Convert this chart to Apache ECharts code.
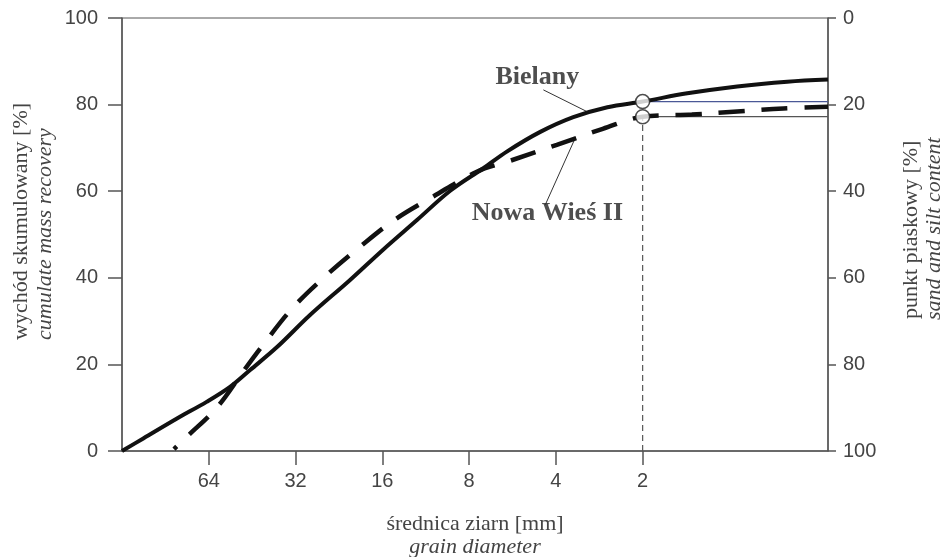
<!DOCTYPE html>
<html><head><meta charset="utf-8">
<script src="https://cdn.jsdelivr.net/npm/echarts@6/dist/echarts.min.js"></script>
<style>html,body{margin:0;padding:0;background:#fff}#c{width:947px;height:557px}</style>
</head><body><div id="c"></div>
<script>
// ---- data (grain diameter in mm, cumulative mass recovery in %) ----
const xTickDiameters = [64, 32, 16, 8, 4, 2];
const yTicks = [0, 20, 40, 60, 80, 100];
const bielanyDiameter = [128, 108, 82.5, 64.9, 54, 46, 37.1, 28.5, 20.7, 15.9, 12.1, 9.3, 7.14, 5.9, 4.53, 3.48, 2.65, 2.0, 1.40, 0.94, 0.63, 0.455];
const bielanyRecovery = [0, 2.9, 7.5, 11.4, 14.8, 18.7, 24.0, 31.4, 39.5, 46.5, 53.4, 60.1, 65.3, 69.2, 73.7, 77.1, 79.4, 80.7, 82.6, 84.2, 85.3, 85.8];
const nowaDiameter = [84.5, 73.2, 63.4, 57.1, 48.7, 41.5, 32.7, 24.9, 19.1, 14.5, 10.7, 7.52, 5.78, 3.97, 2.75, 2.0, 1.35, 0.94, 0.65, 0.455];
const nowaRecovery = [0.46, 4.4, 8.3, 11.8, 18.3, 24.5, 33.1, 40.7, 47.2, 53.4, 58.7, 64.5, 67.0, 70.7, 74.4, 77.2, 77.7, 78.4, 79.1, 79.5];
const sandPointDiameter = 2;
const sandPointRecovery = [80.7, 77.2];   // Bielany, Nowa Wieś II
const xRange = [0.455, 128];

const L = d => Math.log2(d);
const pair = (ds, vs) => ds.map((d, i) => [L(d), vs[i]]);
const lab = {fontFamily: 'Liberation Sans, Arial, sans-serif', fontSize: 20, color: '#444'};
const serif = 'Liberation Serif, Times New Roman, serif';
const titleText = (text, x, y, italic) => ({
  type: 'text', x: x, y: y, rotation: Math.PI / 2,
  style: {text: text, font: (italic ? 'italic ' : '') + '22px ' + serif, fill: '#444',
    textAlign: 'left', textVerticalAlign: 'middle'}
});

const chart = echarts.init(document.getElementById('c'));
chart.setOption({
  animation: false,
  grid: {left: 122, right: 119, top: 18, bottom: 106, show: true, borderColor: '#555', borderWidth: 1,
    outerBoundsMode: 'none', containLabel: false},
  xAxis: {
    type: 'value', inverse: true, min: L(xRange[0]), max: L(xRange[1]),
    axisLine: {onZero: false, lineStyle: {color: '#555', width: 1.5}},
    axisTick: {customValues: xTickDiameters.map(L), length: 14, lineStyle: {color: '#555', width: 1.5}},
    axisLabel: Object.assign({customValues: xTickDiameters.map(L), margin: 20,
      formatter: v => String(Math.round(Math.pow(2, v)))}, lab),
    splitLine: {show: false},
    name: '{a|średnica ziarn [mm]}\n{b|grain diameter}',
    nameLocation: 'middle', nameGap: 62,
    nameTextStyle: {rich: {
      a: {fontFamily: serif, fontSize: 22, color: '#444', lineHeight: 23},
      b: {fontFamily: serif, fontSize: 22, fontStyle: 'italic', color: '#444', lineHeight: 23}
    }}
  },
  yAxis: [{
    type: 'value', min: 0, max: 100, interval: 20, position: 'left',
    axisLine: {show: true, onZero: false, lineStyle: {color: '#555', width: 1.5}},
    axisTick: {show: true, length: 14, lineStyle: {color: '#555', width: 1.5}},
    axisLabel: Object.assign({margin: 24}, lab),
    splitLine: {show: false}
  }, {
    type: 'value', min: 0, max: 100, interval: 20, position: 'right', inverse: true,
    axisLine: {show: true, onZero: false, lineStyle: {color: '#555', width: 1.5}},
    axisTick: {show: true, length: 8, lineStyle: {color: '#555', width: 1.5}},
    axisLabel: Object.assign({margin: 15}, lab),
    splitLine: {show: false}
  }],
  graphic: [
    titleText('wychód skumulowany [%]', 21, 340, false),
    titleText('cumulate mass recovery', 45, 340, true),
    titleText('punkt piaskowy [%]', 911, 319, false),
    titleText('sand and silt content', 934, 320, true)
  ],
  series: [
    {name: 'Bielany', type: 'line', data: pair(bielanyDiameter, bielanyRecovery), smooth: 0.35,
      symbol: 'none', lineStyle: {color: '#111', width: 4}, z: 5},
    {name: 'Nowa Wieś II', type: 'line', data: pair(nowaDiameter, nowaRecovery), smooth: 0.35,
      symbol: 'none', lineStyle: {color: '#111', width: 4.5, type: [26, 17], dashOffset: 22, cap: 'butt'}, z: 5},
    {type: 'line', data: [[L(sandPointDiameter), sandPointRecovery[0]], [L(xRange[0]), sandPointRecovery[0]]], symbol: 'none',
      lineStyle: {color: '#4a5896', width: 1.2}, z: 3},
    {type: 'line', data: [[L(sandPointDiameter), sandPointRecovery[1]], [L(xRange[0]), sandPointRecovery[1]]], symbol: 'none',
      lineStyle: {color: '#555', width: 1.2}, z: 3},
    {type: 'line', data: [[L(sandPointDiameter), 0], [L(sandPointDiameter), sandPointRecovery[1]]], symbol: 'none',
      lineStyle: {color: '#555', width: 1.2, type: [6, 4]}, z: 3},
    {type: 'line', data: [[L(4.42), 83.4], [L(3.08), 78.2]], symbol: 'none', lineStyle: {color: '#333', width: 1}, z: 4},
    {type: 'line', data: [[L(3.42), 72.4], [L(4.35), 56.9]], symbol: 'none', lineStyle: {color: '#333', width: 1}, z: 4},
    {type: 'scatter', data: sandPointRecovery.map(v => [L(sandPointDiameter), v]), symbol: 'circle', symbolSize: 14,
      itemStyle: {color: '#fff', borderColor: '#222', borderWidth: 1.5}, z: 10},
    {type: 'scatter', symbolSize: 0, z: 11,
      data: [{value: [L(4.64), 86.3], name: 'Bielany'}, {value: [L(4.28), 55.0], name: 'Nowa Wieś II'}],
      label: {show: true, position: 'inside', formatter: p => p.name,
        fontFamily: serif, fontWeight: 'bold', fontSize: 26, color: '#222'}}
  ]
});
</script></body></html>
